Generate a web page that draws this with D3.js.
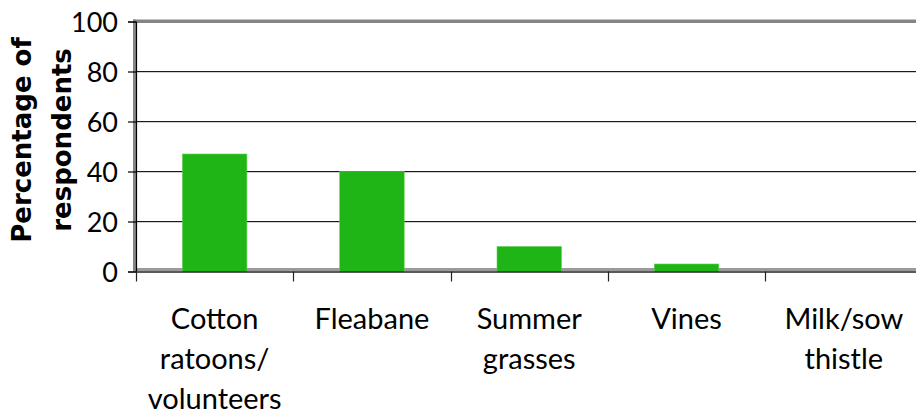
<!DOCTYPE html>
<meta charset="utf-8">
<style>
body { margin: 0; background: #fff; }
text { font-family: Lato, "Open Sans", sans-serif; fill: #000; }
.ytick text { font-size: 27px; }
.cat text { font-size: 29px; }
.ytitle { font-family: "DejaVu Sans", sans-serif; font-size: 26px; font-weight: bold; }
</style>
<svg width="916" height="417"></svg>
<script src="https://d3js.org/d3.v7.min.js"></script>
<script>

// data
var categories = ["Cotton ratoons/ volunteers", "Fleabane", "Summer grasses", "Vines", "Milk/sow thistle"]
var catLines = [["Cotton", "ratoons/", "volunteers"], ["Fleabane"], ["Summer", "grasses"], ["Vines"], ["Milk/sow", "thistle"]]
var values = [47, 40, 10, 3, 0]
var yTicks = [0, 20, 40, 60, 80, 100]

var svg = d3.select("svg")

var plotLeft = 136, plotTop = 21.5, plotBottom = 271.5, plotRight = 922.5

var x = d3.scaleBand()
	.domain(categories)
	.range([plotLeft, plotRight])
	.paddingInner(0)
	.paddingOuter(0)

var y = d3.scaleLinear()
	.domain([0, 100])
	.range([plotBottom, plotTop])

var inner = yTicks.filter(function (d) { return d > 0 && d < 100 })

// gridlines (dark line with light shadow under it)
svg.append("g")
	.selectAll("line")
	.data(inner)
	.enter().append("line")
	.attr("x1", plotLeft).attr("x2", 916)
	.attr("y1", function (d) { return y(d) + 1 })
	.attr("y2", function (d) { return y(d) + 1 })
	.attr("stroke", "#d0d0d0").attr("stroke-width", 1)
svg.append("g")
	.selectAll("line")
	.data(inner)
	.enter().append("line")
	.attr("x1", plotLeft).attr("x2", 916)
	.attr("y1", function (d) { return y(d) })
	.attr("y2", function (d) { return y(d) })
	.attr("stroke", "#1a1a1a").attr("stroke-width", 1.2)

// top gray border
svg.append("rect")
	.attr("x", plotLeft - 3).attr("y", y(100) - 2)
	.attr("width", 916 - plotLeft + 3).attr("height", 3.5)
	.attr("fill", "#858585")

// floor
svg.append("rect")
	.attr("x", plotLeft).attr("y", plotBottom - 3.5)
	.attr("width", 916 - plotLeft).attr("height", 3)
	.attr("fill", "#9a9a9a")

// bars
var bw = x.bandwidth() * 0.41
svg.append("g")
	.selectAll("rect")
	.data(values)
	.enter().append("rect")
	.attr("x", function (d, i) { return x(categories[i]) + x.bandwidth() / 2 - bw / 2 })
	.attr("y", function (d) { return y(d) })
	.attr("width", bw)
	.attr("height", function (d) { return plotBottom - y(d) })
	.attr("fill", "#1fb516")
	.attr("stroke", "#5fd055")
	.attr("stroke-width", 0.6)

// left gray wall
svg.append("rect")
	.attr("x", plotLeft - 3).attr("y", y(100) - 2)
	.attr("width", 3).attr("height", plotBottom - y(100) + 2)
	.attr("fill", "#858585")

// y axis
var yAxis = svg.append("g")
	.attr("class", "ytick")
	.attr("transform", "translate(" + plotLeft + ",0)")
	.call(d3.axisLeft(y).tickValues(yTicks).tickSize(8).tickPadding(10).tickFormat(d3.format("d")))
yAxis.select(".domain").attr("stroke", "#000").attr("stroke-width", 1.2)
yAxis.selectAll(".tick line").attr("stroke", "#000").attr("stroke-width", 1.2)
yAxis.selectAll(".tick text").attr("dy", "0.36em")

// x axis
var xAxis = svg.append("g")
	.attr("transform", "translate(0," + plotBottom + ")")
	.call(d3.axisBottom(x).tickSize(0).tickFormat(""))
xAxis.select(".domain").attr("d", "M" + plotLeft + ",0.5H916").attr("stroke", "#222").attr("stroke-width", 1.5)
xAxis.selectAll(".tick").remove()

svg.append("g")
	.selectAll("line")
	.data(categories)
	.enter().append("line")
	.attr("x1", function (d) { return Math.round(x(d)) + 0.5 })
	.attr("x2", function (d) { return Math.round(x(d)) + 0.5 })
	.attr("y1", plotBottom).attr("y2", plotBottom + 10)
	.attr("stroke", "#222").attr("stroke-width", 1.2)

// category labels
var cat = svg.append("g").attr("class", "cat")
	.selectAll("text")
	.data(categories)
	.enter().append("text")
	.attr("text-anchor", "middle")
	.attr("x", function (d) { return x(d) + x.bandwidth() / 2 })
	.attr("y", 329)
cat.selectAll("tspan")
	.data(function (d, i) { return catLines[i] })
	.enter().append("tspan")
	.attr("x", function () { return this.parentNode.getAttribute("x") })
	.attr("dy", function (d, i) { return i === 0 ? 0 : 40 })
	.text(function (d) { return d })

// y title
var yt = svg.append("text")
	.attr("class", "ytitle")
	.attr("text-anchor", "middle")
	.attr("transform", "translate(31,140) rotate(-90)")
yt.append("tspan").attr("x", 0).attr("dy", 0).text("Percentage of")
yt.append("tspan").attr("x", 0).attr("dy", 40).text("respondents")

</script>
